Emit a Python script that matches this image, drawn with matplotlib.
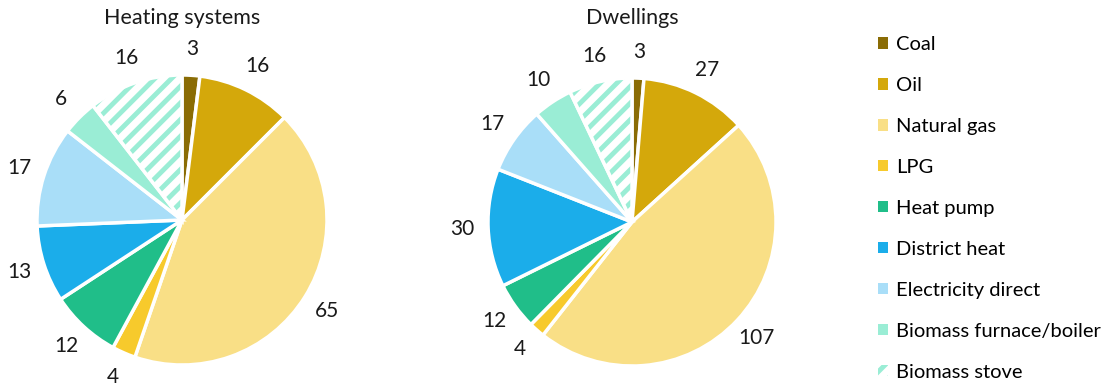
import numpy as np
import matplotlib.pyplot as plt
from matplotlib.patches import Patch, Wedge

plt.rcParams['font.family'] = ['Lato', 'DejaVu Sans']
plt.rcParams['hatch.linewidth'] = 3.5

categories = ['Coal', 'Oil', 'Natural gas', 'LPG', 'Heat pump', 'District heat',
              'Electricity direct', 'Biomass furnace/boiler', 'Biomass stove']
heating_systems = [3, 16, 65, 4, 12, 13, 17, 6, 16]
dwellings = [3, 27, 107, 4, 12, 30, 17, 10, 16]
colors = ['#8a6c05', '#d4a80b', '#f9df86', '#f7ca2c', '#20be89', '#1badea',
          '#a9def8', '#9aedd5', '#ffffff']
stove_hatch = '#9aedd5'

fig = plt.figure(figsize=(11.12, 3.83), dpi=100)
W, H = 1112, 383


def draw_pie(cx, cy, r, values, title):
    ax = fig.add_axes([(cx - r) / W, (H - cy - r) / H, 2 * r / W, 2 * r / H])
    wedges, _ = ax.pie(values, colors=colors, startangle=90, counterclock=False,
                       wedgeprops=dict(edgecolor='white', linewidth=2.5))
    # hatched wedge for biomass stove: teal stripes, white outline on top
    stove = wedges[-1]
    stove.set_edgecolor(stove_hatch)
    stove.set_hatch('//')
    stove.set_linewidth(0)
    ax.add_patch(Wedge(stove.center, stove.r, stove.theta1, stove.theta2,
                       facecolor='none', edgecolor='white', linewidth=2.5))
    for w, v in zip(wedges, values):
        ang = np.deg2rad((w.theta1 + w.theta2) / 2)
        ax.text(1.18 * np.cos(ang), 1.18 * np.sin(ang), str(v), ha='center',
                va='center', fontsize=15, color='#1a1a1a')
    ax.set_xlim(-1, 1)
    ax.set_ylim(-1, 1)
    ax.set_aspect('equal')
    ax.axis('off')
    fig.text(cx / W, 1 - 18 / H, title, ha='center', va='center',
             fontsize=15.5, color='#1a1a1a')


draw_pie(182, 220, 145, heating_systems, 'Heating systems')
draw_pie(632, 222, 144, dwellings, 'Dwellings')

handles = []
for c, name in zip(colors, categories):
    if name == 'Biomass stove':
        handles.append(Patch(facecolor='white', edgecolor=stove_hatch, hatch='//',
                             linewidth=0, label=name))
    else:
        handles.append(Patch(facecolor=c, edgecolor='none', label=name))

fig.legend(handles=handles, loc='upper left', bbox_to_anchor=(878 / W, 1 - 36 / H),
           frameon=False, fontsize=14.5, handlelength=0.5, handleheight=0.5,
           handletextpad=0.4, labelspacing=1.19, borderaxespad=0, borderpad=0)

fig.savefig('out.png', dpi=100)
